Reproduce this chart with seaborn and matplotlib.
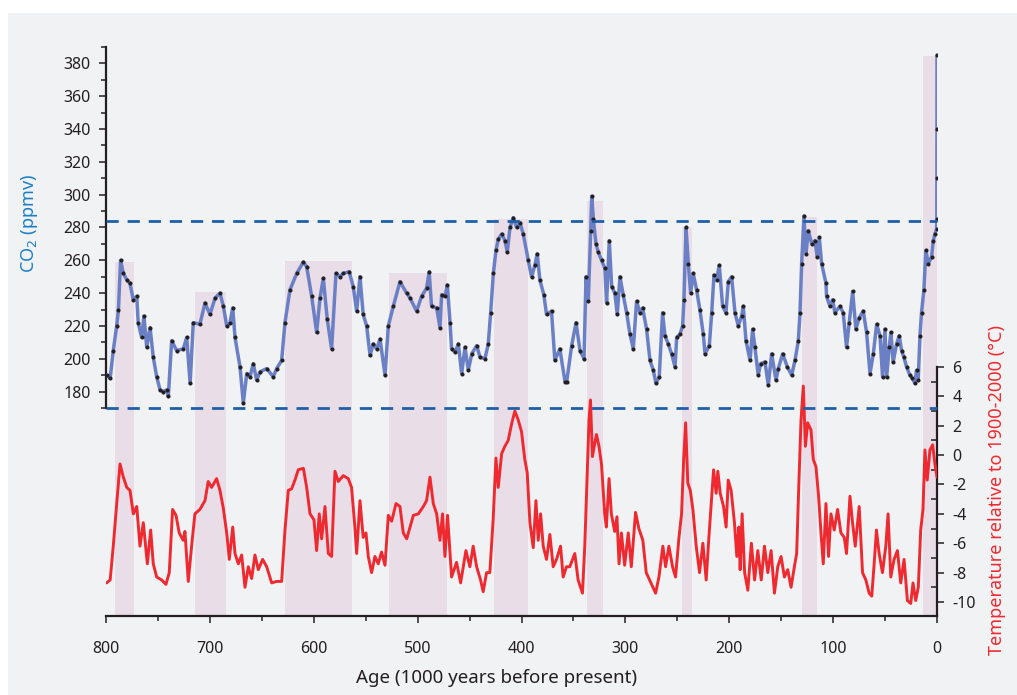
import matplotlib
matplotlib.use("Agg")
import matplotlib.pyplot as plt
from matplotlib.patches import Rectangle
from matplotlib.ticker import FixedLocator
import seaborn as sns
import pandas as pd

# ---------------- data ----------------
co2_age = [799.4, 796, 793, 789.7, 788, 786, 783.3, 780, 777, 773.7, 770.4, 769, 765.7, 763.5, 760.8,
           757.6, 754.5, 751.2, 748, 744.8, 741.6, 740, 736.8, 732, 725.6, 722.3, 719, 716, 709.6, 704.7,
           699.9, 695, 690.3, 687, 683.8, 680.6, 678, 675.8, 671, 667.8, 664.5, 661.4, 658.2, 655, 651.7,
           645.3, 639, 635.7, 630.9, 627.7, 622.9, 616.4, 610, 606.8, 602, 597.2, 594, 590.8, 587, 582.8,
           578.6, 574.8, 571.6, 565.9, 562, 558.7, 555.5, 552.4, 549.1, 545.8, 542.7, 539.4, 536.2, 531.4,
           528.2, 523.4, 517, 510.6, 507.3, 501, 496.2, 491.4, 488.9, 486.6, 481.7, 478.5, 476.9, 473.6,
           471.4, 468.8, 467.3, 464, 460.8, 457.6, 454.4, 451.2, 447.9, 443.1, 440, 435.2, 432, 429.7,
           427.1, 424.6, 422.3, 419.1, 415.9, 413.7, 411.1, 407.9, 404.7, 401.5, 398.3, 393.5, 390.3,
           387.1, 384.9, 382.3, 378.5, 375.9, 371.1, 367.9, 363.1, 358.1, 356.5, 351.7, 347.5, 343.7,
           339.8, 337.9, 335.7, 333.4, 332.4, 330.8, 328.3, 326.1, 322.9, 319.7, 318.1, 315.5, 313.2,
           310.1, 307.8, 305.2, 302.1, 298.8, 295.6, 292.4, 289.2, 285.9, 283.4, 279.6, 276.3, 273.1,
           270.6, 267.4, 264.2, 261.9, 258.7, 255.5, 252.2, 250.6, 247.4, 244.9, 243.6, 241.6, 239.4,
           237.2, 234.7, 231.5, 228.3, 225, 223.3, 219.2, 216.9, 214.7, 212.2, 209.6, 206.4, 203.2,
           200.9, 197.7, 194.5, 191.3, 188.1, 186.5, 183.9, 180, 177.5, 175.3, 172.1, 169.8, 165.6,
           162.4, 159.2, 155, 152.8, 148.6, 144.1, 139.9, 136.7, 133.5, 131.9, 130.3, 128.1, 126.1,
           123.9, 120.6, 117.5, 115.3, 113.3, 111.1, 106.9, 106.3, 103.1, 100.5, 98.3, 93.4, 90.3, 87.1,
           84.5, 81.2, 78.1, 74.9, 71, 67.8, 64.5, 61.3, 58.1, 54.9, 52.4, 50.1, 48.5, 46, 44.4, 42.2,
           38.9, 36.4, 34.1, 31.9, 29.3, 26.1, 23.6, 21.3, 19.7, 18.1, 16.4, 14.9, 12.6, 10.7, 8.4, 5.2,
           3.6, 2, 0.4, 0.2, 0.1, 0.05, 0.0]
co2_ppmv = [190, 188, 205, 220, 230, 260, 252, 248, 246, 236, 238, 222, 213, 226, 207,
            219, 201, 189, 181, 180, 181, 177, 211, 205, 206, 213, 185, 222, 221, 234,
            227, 237, 240, 232, 220, 222, 231, 213, 195, 173, 191, 189, 197, 187, 192,
            194, 189, 194, 199, 222, 242, 252, 259, 256, 238, 216, 237, 249, 224, 206,
            252, 250, 252, 253, 244, 229, 250, 227, 220, 202, 209, 206, 212, 190,
            220, 232, 247, 240, 237, 229, 238, 243, 253, 232, 231, 219, 239, 238,
            245, 222, 206, 204, 209, 191, 207, 193, 203, 208, 201, 200, 209, 228,
            252, 266, 273, 276, 272, 265, 280, 286, 280, 283, 276, 260, 250,
            257, 264, 248, 239, 227, 229, 199, 206, 186, 186, 208, 222, 205,
            200, 250, 235, 278, 299, 285, 270, 265, 260, 255, 234, 272, 244,
            240, 227, 250, 239, 228, 215, 206, 235, 228, 231, 218, 199, 193,
            185, 189, 228, 214, 209, 203, 195, 213, 215, 220, 236, 280, 258,
            240, 252, 242, 230, 215, 203, 208, 228, 251, 248, 257, 232, 228,
            247, 250, 228, 220, 226, 232, 211, 199, 218, 207, 190, 197, 198,
            184, 203, 187, 194, 203, 195, 190, 199, 211, 228, 258, 287, 264,
            278, 270, 272, 262, 274, 258, 246, 238, 232, 236, 228, 232, 228, 207,
            222, 241, 218, 225, 229, 216, 191, 203, 221, 214, 189, 218, 189, 207, 216, 198,
            209, 214, 205, 201, 195, 190, 188, 185, 193, 187, 214, 228, 242, 266, 258, 262,
            272, 276, 279, 285, 310, 340, 385]

temp_age = [799.4, 796, 793, 789.7, 786.5, 783.3, 780, 776.9, 773.7, 770.4, 767.3, 764.1, 760.2, 757,
            754.5, 751.2, 746.4, 742.3, 739.1, 735.9, 732.6, 729.5, 725.7, 724, 720.8, 717.6, 714.4,
            709.6, 704.7, 701.6, 698.3, 693.5, 690.3, 687.1, 683.8, 681.3, 678, 675.8, 672.6, 669.4,
            666.2, 663, 659.8, 656.6, 653.4, 649.2, 645.3, 640.5, 635.7, 630.9, 627.7, 624.5, 621.3,
            618.1, 614.9, 610, 606.8, 603.6, 599.8, 597.2, 594.7, 592.4, 589.2, 586, 582.8, 579.6,
            576.4, 571.6, 566.8, 563.6, 560.4, 558.7, 555.5, 552.4, 549.7, 547.5, 544.3, 541.1, 537.9,
            534.7, 531.4, 528.2, 525, 520.8, 517, 513.8, 510.5, 507.3, 504.1, 499.3, 494.5, 491.4,
            488.1, 484.9, 481.7, 478.5, 476, 473.7, 471.2, 467.3, 462.5, 458.6, 453.5, 449.7, 446.5,
            443.2, 439.4, 436.9, 433.6, 430.5, 427.3, 424.6, 422.4, 419.1, 416, 412.8, 409.6, 406.4,
            403.2, 400, 396.8, 394.5, 391.9, 388.7, 386.1, 383.9, 381.6, 379.1, 375.9, 372.7, 369.5,
            366.3, 362.4, 359.9, 356.7, 353.5, 348.7, 345.5, 341.3, 339.1, 336.9, 335, 333.6, 331.7,
            329.5, 327.8, 325.4, 323, 319.9, 318.3, 315.7, 313.5, 310.3, 308.1, 306.1, 303.8, 300.7,
            297.2, 294.3, 290.2, 287, 283.2, 279.9, 276.7, 273.5, 270.9, 267.7, 263.9, 261.3, 258.1,
            254.6, 251.7, 248.4, 245.9, 243.9, 242, 239.9, 237.5, 235, 231.8, 228.6, 225.4, 222.2,
            219.6, 217.3, 215.1, 212.6, 211, 208.7, 205.5, 203, 201, 198.2, 195, 192.7, 190.8, 189.5,
            187.6, 185.2, 182.1, 178.7, 175.6, 172.5, 169.2, 166.1, 162.9, 159.7, 156.5, 153.3, 150.1,
            146.9, 143.7, 140.5, 137.3, 135.1, 133.2, 130.9, 128.7, 126.7, 124.5, 121.3, 119.1, 116.5,
            114, 111.7, 109.5, 106.9, 104.4, 102.1, 98.9, 95.7, 92.5, 89.3, 87.1, 83.8, 81.3, 78.7,
            74.9, 71.7, 68.5, 65.3, 62.8, 60.5, 58.3, 55.7, 52.5, 49.3, 47.1, 44.5, 41.3, 38.1, 34.9,
            31.7, 28.5, 25.3, 23.1, 20.5, 18, 15.7, 13.5, 11.6, 9.4, 6.8, 4.2, 2, 0]
temp_anom = [-8.7, -8.5, -6.2, -3.3, -0.6, -1.5, -2.2, -2.4, -4.0, -3.5, -6.2, -4.6, -7.4, -5.1,
             -7.4, -8.3, -8.5, -8.8, -8.0, -3.7, -4.1, -5.3, -5.8, -5.2, -8.6, -6.2, -4.0,
             -3.7, -3.1, -1.8, -2.2, -1.6, -2.4, -3.6, -5.3, -7.1, -4.9, -6.7, -7.4, -6.8,
             -9.0, -7.6, -8.4, -6.8, -7.8, -7.1, -7.6, -8.7, -8.6, -8.6, -5.1, -2.4, -2.3,
             -1.7, -1.0, -0.9, -2.2, -4.0, -4.4, -6.5, -4.0, -5.7, -3.5, -6.7, -6.9, -1.1,
             -1.8, -1.4, -1.6, -2.2, -4.9, -6.7, -3.1, -5.6, -5.3, -6.9, -8.0, -6.9, -7.4,
             -6.6, -7.5, -4.1, -4.5, -3.3, -3.5, -5.3, -5.7, -4.9, -4.1, -4.0, -3.5, -3.1,
             -1.5, -3.3, -4.0, -5.8, -4.0, -6.9, -4.1, -8.3, -7.3, -8.7, -6.5, -7.6, -6.2,
             -7.6, -8.5, -9.3, -8.0, -8.0, -4.4, -0.2, -2.2, 0.1, 0.6, 1.0, 2.1, 3.0,
             2.4, 1.6, -0.3, -1.2, -4.6, -6.3, -3.1, -5.8, -4.0, -6.2, -7.1, -5.4, -7.6,
             -7.1, -6.2, -8.3, -7.6, -7.6, -6.7, -8.5, -9.4, -6.2, -1.7, 2.4, 3.75, -0.1,
             0.8, 1.4, 0.6, -0.6, -4.0, -4.9, -1.6, -4.0, -5.2, -4.2, -7.4, -5.3, -7.5,
             -5.3, -7.6, -3.9, -5.0, -5.8, -8.0, -8.5, -9.0, -9.4, -8.3, -6.2, -7.6, -6.2,
             -7.6, -8.3, -5.6, -4.0, -0.3, 2.2, -1.9, -2.4, -3.7, -6.2, -8.0, -6.0, -8.5,
             -5.6, -3.3, -1.0, -2.6, -1.1, -2.6, -3.5, -4.9, -1.7, -2.4, -4.6, -6.9, -4.9, -7.8,
             -4.0, -8.0, -9.2, -6.0, -8.5, -6.5, -8.5, -6.2, -8.0, -6.5, -9.4, -7.6, -6.9,
             -8.3, -7.8, -9.0, -7.6, -6.7, -2.4, 2.4, 4.7, 0.6, 2.2, 1.7, -0.3, -0.8,
             -2.8, -5.3, -7.4, -3.3, -6.9, -4.0, -5.1, -3.7, -5.3, -5.6, -6.7, -2.8, -4.6, -6.2,
             -3.5, -8.0, -8.5, -9.4, -9.6, -7.4, -5.1, -6.7, -8.0, -6.2, -4.0, -8.3, -7.1, -6.5, -8.7,
             -7.1, -9.9, -10.1, -8.7, -9.9, -9.0, -5.1, -3.7, 0.35, -1.7, 0.35, 0.7, -0.6, -1.5]

# interglacial bands: start age, end age, top (CO2 ppmv)
band_start = [791.3, 714.3, 627.7, 527.6, 426.5, 336.7, 245.2, 130.3, 13.2]
band_end = [773.0, 684.5, 563.5, 472.0, 394.0, 321.9, 235.9, 115.8, 0.0]
band_top = [259.2, 240.9, 259.8, 252.1, 285.2, 296.4, 280.5, 286.3, 384.6]

ref_lines = [284, 170]  # CO2 dashed reference levels

x_ticks = [800, 700, 600, 500, 400, 300, 200, 100, 0]
co2_ticks = [180, 200, 220, 240, 260, 280, 300, 320, 340, 360, 380]
temp_ticks = [-10, -8, -6, -4, -2, 0, 2, 4, 6]

# ---------------- style ----------------
sns.set_style("ticks")
plt.rcParams['font.family'] = ['Noto Sans', 'DejaVu Sans']
plt.rcParams['axes.unicode_minus'] = False

BG = '#f1f2f4'
BAND = '#e9dde7'
BLUE = '#6b80c4'
RED = '#ee2a30'
DASH = '#1e5fa8'
INK = '#231f20'
LBLUE = '#1b7fc6'

W, H = 1017, 695
fig = plt.figure(figsize=(W / 100, H / 100), dpi=100, facecolor='white')
fig.patches.append(Rectangle((8 / W, 0), 1 - 8 / W, 1 - 13 / H, transform=fig.transFigure,
                             facecolor=BG, edgecolor='none', zorder=-10))

ax = fig.add_axes([106 / W, 1 - 616 / H, (937 - 106) / W, (616 - 47) / H])
ax.set_facecolor('none')
ax2 = ax.twinx()
ax2.set_facecolor('none')

CO2_MIN = 43.2
ax.set_xlim(800, 0)
ax.set_ylim(CO2_MIN, 390)
ax2.set_ylim(-10.953, 27.78)

# bands
bdf = pd.DataFrame({'s': band_start, 'e': band_end, 't': band_top})
ax.bar(x=(bdf.s + bdf.e) / 2, height=bdf.t - CO2_MIN, width=(bdf.s - bdf.e), bottom=CO2_MIN,
       color=BAND, edgecolor='none', zorder=0)

co2_df = pd.DataFrame({'age': co2_age, 'co2': co2_ppmv})
sns.lineplot(data=co2_df, x='age', y='co2', ax=ax, color=BLUE, lw=2.5, sort=False,
             marker='o', markersize=2.2, markerfacecolor=INK, markeredgecolor=INK, zorder=3)

temp_df = pd.DataFrame({'age': temp_age, 't': temp_anom})
sns.lineplot(data=temp_df, x='age', y='t', ax=ax2, color=RED, lw=2.1, sort=False, zorder=3)

for v in ref_lines:
    ax2.plot([800, 0], [v, v], transform=ax.transData, color=DASH, lw=2.0,
             dashes=(4.4, 3.2), zorder=5, clip_on=False)

# spines
for s in ['top', 'right']:
    ax.spines[s].set_visible(False)
for s in ['top', 'left', 'bottom']:
    ax2.spines[s].set_visible(False)
ax.spines['left'].set_bounds(170, 390)
ax2.spines['right'].set_bounds(-10.953, 6)
for sp in [ax.spines['left'], ax.spines['bottom'], ax2.spines['right']]:
    sp.set_linewidth(1.6)
    sp.set_color(INK)

ax.set_xticks(x_ticks)
ax.xaxis.set_minor_locator(FixedLocator([750, 650, 550, 450, 350, 250, 150, 50]))
ax.set_yticks(co2_ticks)
ax.yaxis.set_minor_locator(FixedLocator([170, 190, 210, 230, 250, 270, 290, 310, 330, 350, 370, 390]))
ax2.set_yticks(temp_ticks)
ax2.yaxis.set_minor_locator(FixedLocator([-9, -7, -5, -3, -1, 1, 3, 5]))

ax.tick_params(axis='y', which='major', direction='out', length=5, width=1.1, color=INK,
               labelsize=11.5, labelcolor=INK, pad=6)
ax.tick_params(axis='x', which='major', direction='out', length=5, width=1.1, color=INK,
               labelsize=11.5, labelcolor=INK, pad=13)
ax.tick_params(axis='both', which='minor', direction='out', length=3.5, width=1.1, color=INK)
ax2.tick_params(axis='y', which='major', direction='out', length=5, width=1.1, color=INK,
                labelsize=11.5, labelcolor=INK, pad=6)
ax2.tick_params(axis='y', which='minor', direction='in', length=4, width=1.1, color=INK)

ax.set_xlabel('Age (1000 years before present)', fontsize=13.5, color=INK)
ax.xaxis.set_label_coords((497 - 106) / 831, (616 - 678) / 569)
ax.xaxis.label.set_va('center')
ax.set_ylabel('CO$_2$ (ppmv)', fontsize=13, color=LBLUE)
ax.yaxis.set_label_coords((30 - 106) / 831, (616 - 223) / 569)
ax.yaxis.label.set_va('center')
ax2.set_ylabel('Temperature relative to 1900-2000 (°C)', fontsize=13, color=RED, rotation=90)
ax2.yaxis.set_label_coords((997 - 106) / 831, (616 - 490) / 569)
ax2.yaxis.label.set_va('center')

fig.savefig('out.png', dpi=100, facecolor='white')
